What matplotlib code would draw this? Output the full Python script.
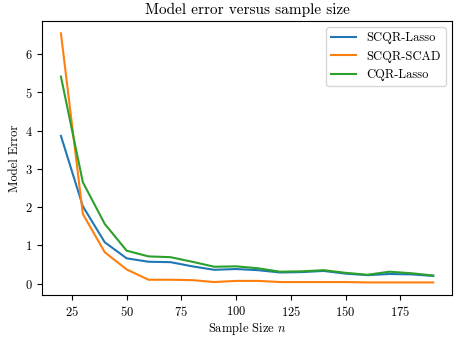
import matplotlib
matplotlib.use("Agg")
from matplotlib import pyplot as plt

plt.rcParams['font.family'] = 'serif'
plt.rcParams['font.serif'] = ['cmr10']
plt.rcParams['mathtext.fontset'] = 'cm'
plt.rcParams['axes.formatter.use_mathtext'] = True

n = [20, 30, 40, 50, 60, 70, 80, 90, 100, 110, 120, 130, 140, 150, 160, 170, 180, 190]
scqr_lasso = [3.86, 2.02, 1.08, 0.66, 0.57, 0.56, 0.45, 0.36, 0.38, 0.35, 0.29, 0.30, 0.33, 0.26, 0.22, 0.25, 0.24, 0.20]
scqr_scad = [6.54, 1.82, 0.82, 0.37, 0.10, 0.10, 0.09, 0.04, 0.07, 0.07, 0.04, 0.04, 0.04, 0.04, 0.03, 0.03, 0.03, 0.03]
cqr_lasso = [5.41, 2.65, 1.56, 0.86, 0.71, 0.69, 0.57, 0.44, 0.45, 0.40, 0.31, 0.32, 0.35, 0.28, 0.23, 0.31, 0.27, 0.21]

fig, ax = plt.subplots(figsize = (4.55, 3.37), dpi = 100)
ax.plot(n, scqr_lasso, label = 'SCQR-Lasso')
ax.plot(n, scqr_scad, label = 'SCQR-SCAD')
ax.plot(n, cqr_lasso, label = 'CQR-Lasso')
ax.set_title('Model error versus sample size', fontsize = 11, pad = 5)
ax.set_xlabel('Sample Size $n$', fontsize = 9, labelpad = 1)
ax.set_ylabel('Model Error', fontsize = 9, labelpad = 3)
ax.tick_params(labelsize = 9)
ax.legend(fontsize = 9)
plt.subplots_adjust(left = 0.093, right = 0.993, top = 0.938, bottom = 0.125)
plt.savefig('out.png')
